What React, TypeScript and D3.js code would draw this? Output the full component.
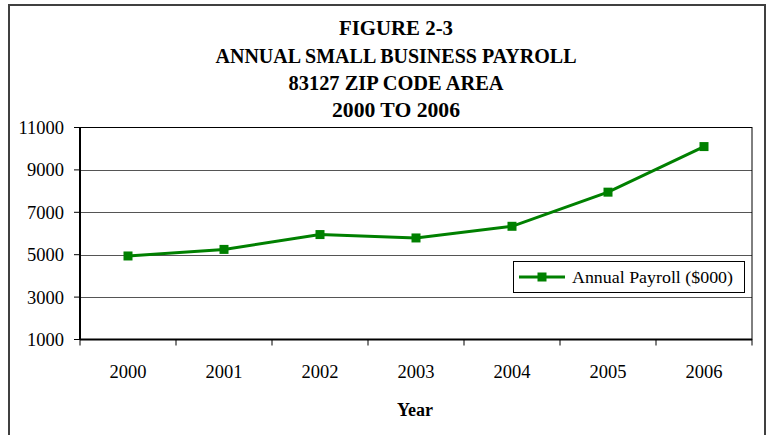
import React from "react";
import * as d3 from "d3";

const categories = ["2000", "2001", "2002", "2003", "2004", "2005", "2006"];
const payroll = [4940, 5250, 5950, 5790, 6340, 7950, 10100];
const yTicks = [1000, 3000, 5000, 7000, 9000, 11000];
const titleLines = ["FIGURE 2-3", "ANNUAL SMALL BUSINESS PAYROLL", "83127 ZIP CODE AREA", "2000 TO 2006"];
const seriesName = "Annual Payroll ($000)";
const xTitle = "Year";

const W = 772, H = 435;
const plot = { left: 80, right: 752, top: 127.5, bottom: 339.5 };
const green = "#008000";
const font = "'Liberation Serif', 'Times New Roman', serif";

export default function App() {
  const x = d3.scaleBand<string>().domain(categories).range([plot.left, plot.right]).padding(0);
  const y = d3.scaleLinear().domain([1000, 11000]).range([plot.bottom, plot.top]);
  const cx = (c: string) => (x(c) as number) + x.bandwidth() / 2;
  const pts: [number, number][] = categories.map((c, i) => [cx(c), y(payroll[i])]);
  const line = d3.line()(pts) as string;
  const boundaries = categories.map((c) => x(c) as number).concat([plot.right]);
  const titleY = [35, 63, 90, 117];
  const titleWidths = [114, 361, 215, 128];

  return (
    <div style={{ position: "fixed", left: 0, top: 0 }}>
      <svg width={W} height={H} style={{ display: "block", background: "#fff" }}>
        <rect x={9} y={5} width={756} height={440} fill="#fff" stroke="#404040" strokeWidth={2} />
        {titleLines.map((t, i) => (
          <text key={t} x={396} y={titleY[i]} textAnchor="middle" fontFamily={font} fontWeight="bold" fontSize={21}
            textLength={titleWidths[i]} lengthAdjust="spacingAndGlyphs">{t}</text>
        ))}
        {yTicks.filter((v) => v !== 1000 && v !== 11000).map((v) => (
          <line key={v} x1={plot.left} x2={plot.right} y1={Math.round(y(v)) + 0.5} y2={Math.round(y(v)) + 0.5} stroke="#555" strokeWidth={1} />
        ))}
        <rect x={plot.left} y={plot.top} width={plot.right - plot.left} height={plot.bottom - plot.top} fill="none" stroke="#000" strokeWidth={1} />
        <line x1={plot.left} x2={plot.left} y1={plot.top} y2={plot.bottom} stroke="#000" strokeWidth={2} />
        <line x1={plot.left} x2={plot.right} y1={plot.bottom} y2={plot.bottom} stroke="#000" strokeWidth={2} />
        {yTicks.map((v) => (
          <g key={v}>
            <line x1={plot.left - 6} x2={plot.left} y1={y(v)} y2={y(v)} stroke="#000" strokeWidth={1} />
            <text x={64} y={y(v) + 6.5} textAnchor="end" fontFamily={font} fontSize={18.5}>{v}</text>
          </g>
        ))}
        {boundaries.map((b, i) => (
          <line key={i} x1={b} x2={b} y1={plot.bottom} y2={plot.bottom + 6} stroke="#000" strokeWidth={1} />
        ))}
        {categories.map((c) => (
          <text key={c} x={cx(c)} y={378} textAnchor="middle" fontFamily={font} fontSize={18.5}>{c}</text>
        ))}
        <text x={415} y={416} textAnchor="middle" fontFamily={font} fontWeight="bold" fontSize={18}>{xTitle}</text>
        <path d={line} fill="none" stroke={green} strokeWidth={3} />
        {pts.map(([px, py], i) => (
          <rect key={i} x={px - 4.5} y={py - 4.5} width={9} height={9} fill={green} />
        ))}
        <rect x={513.5} y={261.5} width={231} height={31} fill="#fff" stroke="#000" strokeWidth={1} />
        <line x1={519} x2={565} y1={277} y2={277} stroke={green} strokeWidth={3} />
        <rect x={537.5} y={272.5} width={9} height={9} fill={green} />
        <text x={572} y={283} fontFamily={font} fontSize={17} textLength={161} lengthAdjust="spacingAndGlyphs">{seriesName}</text>
      </svg>
    </div>
  );
}
